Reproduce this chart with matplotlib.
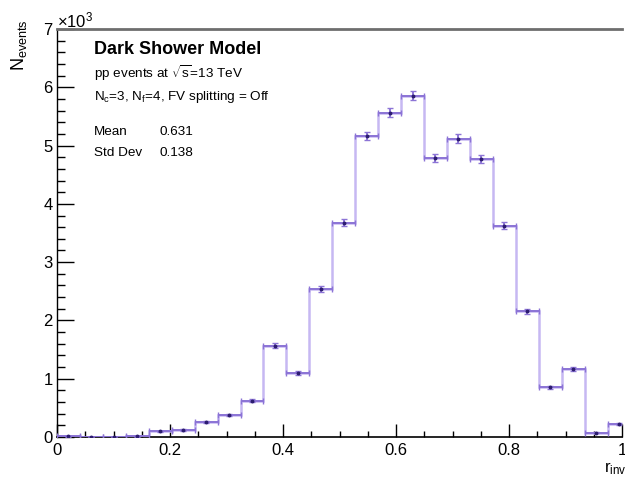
import numpy as np
import matplotlib
matplotlib.use("Agg")
import matplotlib.pyplot as plt
from matplotlib.ticker import MultipleLocator

plt.rcParams['font.family'] = ['Liberation Sans', 'DejaVu Sans']
plt.rcParams['mathtext.fontset'] = 'custom'
plt.rcParams['mathtext.rm'] = 'Liberation Sans'
plt.rcParams['mathtext.it'] = 'Liberation Sans:italic'
plt.rcParams['mathtext.bf'] = 'Liberation Sans:bold'

# ---- data ----
bin_edges = np.linspace(0.0, 1.015, 26)
counts = [12, 4, 3, 9, 100, 120, 260, 380, 625, 1566, 1105, 2545, 3680,
          5165, 5562, 5855, 4786, 5120, 4777, 3627, 2158, 850, 1168, 74, 228]
errors = [3.5, 2, 1.7, 3, 10, 11, 16, 19.5, 25, 39.6, 33.2, 50.4, 60.7,
          71.9, 74.6, 76.5, 69.2, 71.6, 69.1, 60.2, 46.5, 29.2, 34.2, 8.6, 15.1]
x_ticks = [0, 0.2, 0.4, 0.6, 0.8, 1]
x_ticklabels = ["0", "0.2", "0.4", "0.6", "0.8", "1"]
y_ticks = [0, 1, 2, 3, 4, 5, 6, 7]
title = "Dark Shower Model"
line1 = r"pp events at $\sqrt{\mathrm{s}}$=13 TeV"
line2 = r"N$_\mathrm{c}$=3, N$_\mathrm{f}$=4, FV splitting = Off"
stats = [("Mean", "0.631"), ("Std Dev", "0.138")]

W, H = 625, 478
fig = plt.figure(figsize=(W / 100, H / 100), dpi=100)
ax = fig.add_axes([57 / W, (H - 437) / H, 565 / W, 408 / H])

edges = np.asarray(bin_edges)
vals = np.asarray(counts) / 1000.0
errs = np.asarray(errors) / 1000.0
centers = 0.5 * (edges[:-1] + edges[1:])
halfw = 0.5 * (edges[1:] - edges[:-1])

ax.stairs(vals, edges, color='#c6b8f2', lw=1.8, baseline=None, zorder=2)
ax.errorbar(centers, vals, xerr=halfw, yerr=errs, fmt='o', ms=1.8,
            color='#8c74d6', mfc='#2c1c70', mec='#2c1c70', ecolor='#8c74d6',
            elinewidth=1.4, capsize=2.0, capthick=1.0, zorder=3)

ax.set_xlim(0, 1.0)
ax.set_ylim(0, 7.0)

ax.spines['right'].set_visible(False)
ax.spines['top'].set_color('#6e6e6e')
ax.spines['top'].set_linewidth(2.0)
ax.spines['left'].set_linewidth(1.0)
ax.spines['bottom'].set_linewidth(1.2)

ax.set_xticks(x_ticks)
ax.set_xticklabels(x_ticklabels)
ax.set_yticks(y_ticks)
ax.xaxis.set_minor_locator(MultipleLocator(0.05))
ax.yaxis.set_minor_locator(MultipleLocator(0.2))
ax.tick_params(axis='both', which='both', direction='in', top=False, right=False,
               labelsize=12, color='black', width=1.0)
ax.tick_params(axis='x', which='major', length=9.5, pad=4)
ax.tick_params(axis='x', which='minor', length=4)
ax.tick_params(axis='y', which='major', length=12, pad=3)
ax.tick_params(axis='y', which='minor', length=6)

# axis labels and multiplier
fig.text(57 / W, 1 - 27 / H, r"$\times$10$^\mathrm{3}$", ha='left', va='baseline', fontsize=12)
fig.text(19 / W, 1 - 19 / H, r"N$_\mathrm{events}$", rotation=90, ha='center', va='top', fontsize=13)
fig.text(604 / W, 1 - 472 / H, r"r$_\mathrm{inv}$", ha='left', va='baseline', fontsize=12)

# text block
fig.text(94 / W, 1 - 54 / H, title, ha='left', va='baseline', fontsize=13, fontweight='bold')
fig.text(94 / W, 1 - 78 / H, line1, ha='left', va='baseline', fontsize=9.7)
fig.text(94 / W, 1 - 100 / H, line2, ha='left', va='baseline', fontsize=9.7)
for i, (k, v) in enumerate(stats):
    yb = 135 + 21 * i
    fig.text(94 / W, 1 - yb / H, k, ha='left', va='baseline', fontsize=9.7)
    fig.text(160 / W, 1 - yb / H, v, ha='left', va='baseline', fontsize=9.7)

fig.savefig("out.png", dpi=100)
